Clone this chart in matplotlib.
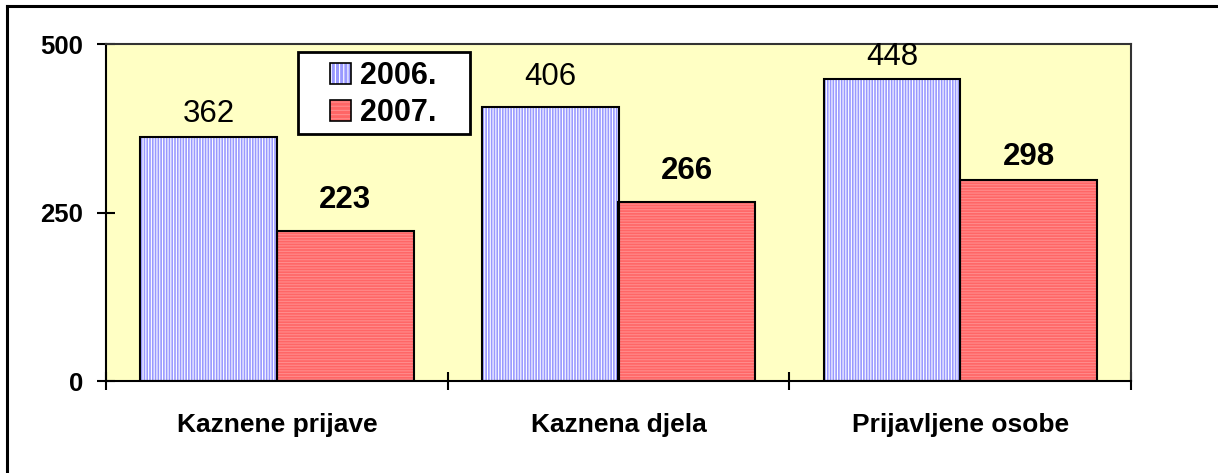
import matplotlib.pyplot as plt
from matplotlib.patches import Patch, Rectangle
from matplotlib.lines import Line2D
from matplotlib.legend_handler import HandlerTuple
import numpy as np

categories = ['Kaznene prijave', 'Kaznena djela', 'Prijavljene osobe']
years = ['2006.', '2007.']
values_2006 = [362, 406, 448]
values_2007 = [223, 266, 298]

# label gaps above the bar tops (pixels), the labels were nudged by hand in the original
pad_2006 = [15, 22, 14]
pad_2007 = [23, 23, 15]

plt.rcParams['font.family'] = ['Liberation Sans', 'DejaVu Sans']
plt.rcParams['hatch.linewidth'] = 0.8

W, H = 1218, 473
fig = plt.figure(figsize=(W / 100, H / 100), dpi=100)
ax = fig.add_axes([106 / W, 1 - 381 / H, (1131 - 106) / W, (381 - 44) / H])
ax.set_facecolor('#FFFFC4')

x = np.arange(len(categories))
w = 0.4
blue, red = '#9999FF', '#FF6666'

# fill + white/light stripes, then black outline on top
ax.bar(x - w / 2, values_2006, w, color=blue, edgecolor='white', hatch='||||||', linewidth=0)
ax.bar(x + w / 2, values_2007, w, color=red, edgecolor='#FF8C8C', hatch='------', linewidth=0)
ax.bar(x - w / 2, values_2006, w, fill=False, edgecolor='black', linewidth=1.5)
ax.bar(x + w / 2, values_2007, w, fill=False, edgecolor='black', linewidth=1.5)

for xi, v, p in zip(x - w / 2, values_2006, pad_2006):
    ax.annotate(str(v), (xi, v), xytext=(0, p * 0.72), textcoords='offset points',
                ha='center', va='baseline', fontsize=22.5)
for xi, v, p in zip(x + w / 2, values_2007, pad_2007):
    ax.annotate(str(v), (xi, v), xytext=(0, p * 0.72), textcoords='offset points',
                ha='center', va='baseline', fontsize=22.5, fontweight='bold')

ax.set_xlim(-0.5, 2.5)
ax.set_ylim(0, 500)
ax.set_yticks([0, 250, 500])
ax.set_xticks([-0.5, 0.5, 1.5, 2.5])
ax.set_xticklabels([])
ax.set_xticks(x, minor=True)
ax.set_xticklabels(categories, minor=True, fontsize=19, fontweight='bold')
ax.tick_params(axis='x', which='minor', length=0, pad=23)
ax.tick_params(axis='both', which='major', direction='inout', length=13, width=1.5)
ax.tick_params(axis='y', labelsize=18.5, pad=10)
for lab in ax.get_yticklabels():
    lab.set_fontweight('bold')
for s in ax.spines.values():
    s.set_linewidth(1.5)
ax.spines['top'].set_color('#333333')
ax.spines['right'].set_color('#333333')

# legend box drawn by hand (wide side margins), entries without frame
fig.add_artist(Rectangle((298 / W, 1 - 134 / H), (470 - 298) / W, (134 - 52) / H,
                         transform=fig.transFigure, facecolor='white', edgecolor='black',
                         linewidth=2, zorder=5))
h2006 = (Patch(facecolor=blue, edgecolor='white', hatch='||||', linewidth=0),
         Patch(fill=False, edgecolor='black', linewidth=1.2))
h2007 = (Patch(facecolor=red, edgecolor='#FF8C8C', hatch='----', linewidth=0),
         Patch(fill=False, edgecolor='black', linewidth=1.2))
leg = fig.legend([h2006, h2007], years, loc='upper left', bbox_to_anchor=(330 / W, 1 - 61 / H),
                 frameon=False, prop={'size': 22, 'weight': 'bold'},
                 handler_map={tuple: HandlerTuple(ndivide=1, pad=0)},
                 handlelength=0.69, handleheight=0.69, handletextpad=0.3,
                 labelspacing=0.23, borderpad=0, borderaxespad=0)
leg.set_zorder(6)

# outer frame of the chart (only left and top edges visible)
fig.add_artist(Line2D([7 / W, 7 / W], [0, 1 - 6 / H], color='black', linewidth=2.2, transform=fig.transFigure))
fig.add_artist(Line2D([7 / W, 1], [1 - 6 / H, 1 - 6 / H], color='black', linewidth=2.2, transform=fig.transFigure))

fig.savefig('out.png', dpi=100)
